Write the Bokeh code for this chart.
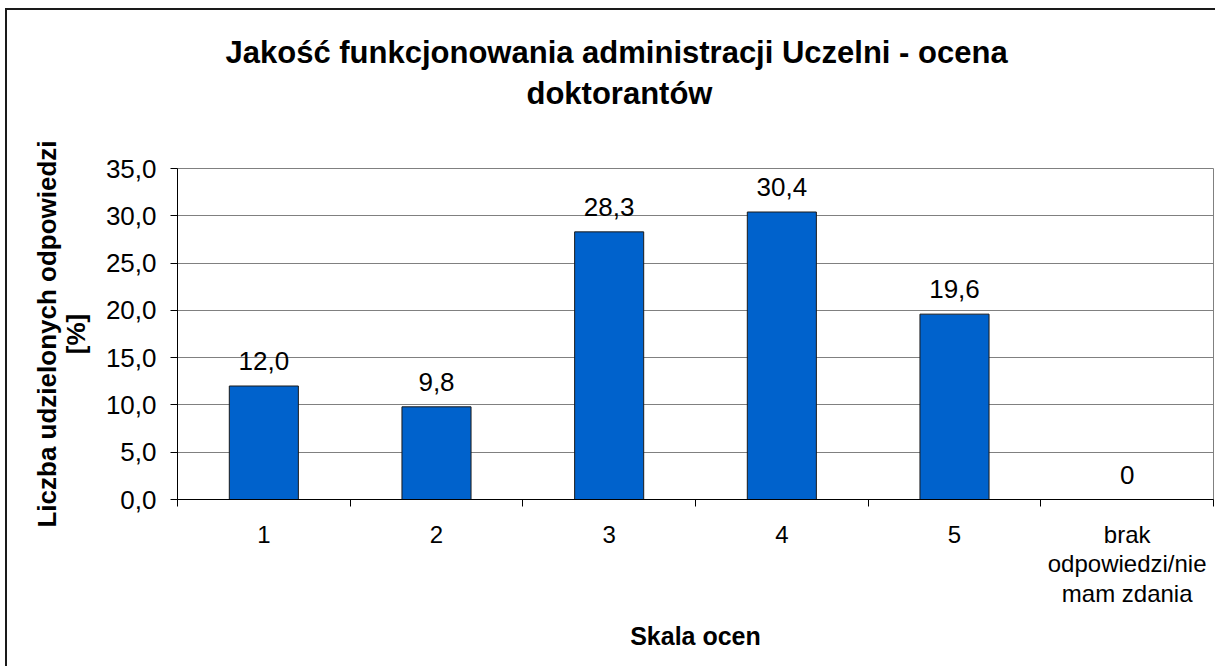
from bokeh.plotting import figure
from bokeh.models import Range1d, FixedTicker, ColumnDataSource, LabelSet, Title
from bokeh.core.properties import value
from bokeh.embed import file_html
from bokeh.resources import INLINE

# ---- data ----
categories = ["1", "2", "3", "4", "5", "brak\nodpowiedzi/nie\nmam zdania"]
values = [12.0, 9.8, 28.3, 30.4, 19.6, 0]
value_labels = ["12,0", "9,8", "28,3", "30,4", "19,6", "0"]
y_ticks = [0, 5, 10, 15, 20, 25, 30, 35]
y_tick_labels = ["0,0", "5,0", "10,0", "15,0", "20,0", "25,0", "30,0", "35,0"]
title_line1 = "Jakość funkcjonowania administracji Uczelni - ocena"
title_line2 = "doktorantów"
x_title = "Skala ocen"
y_title = "Liczba udzielonych odpowiedzi\n[%]"

FONT = "Liberation Sans"

centers = [i + 0.5 for i in range(len(categories))]
source = ColumnDataSource(dict(x=centers, top=values, lab=value_labels))

p = figure(width=1210, height=658, output_backend="svg", toolbar_location=None,
           x_range=Range1d(0, len(categories)), y_range=Range1d(0, 35),
           min_border_left=170, min_border_right=4, min_border_top=158, min_border_bottom=169)
p.styles = {"border-left": "2px solid #1a1a1a", "border-top": "2px solid #1a1a1a",
            "margin-left": "5px", "margin-top": "8px"}

p.background_fill_color = "white"
p.border_fill_color = "white"
p.outline_line_color = "#808080"
p.outline_line_width = 1

p.vbar(x="x", top="top", width=0.4, source=source,
       fill_color="#0062CC", line_color="#1a1a1a", line_width=1)

labels = LabelSet(x="x", y="top", text="lab", source=source, text_align="center",
                  text_baseline="alphabetic", y_offset=16, text_font=value(FONT),
                  text_font_size="26px", text_color="black")
p.add_layout(labels)

# y axis
yax = p.yaxis[0]
yax.ticker = FixedTicker(ticks=y_ticks, minor_ticks=[])
yax.major_label_overrides = {t: l for t, l in zip(y_ticks, y_tick_labels)}
yax.major_label_text_font = FONT
yax.major_label_text_font_size = "26px"
yax.major_label_text_color = "black"
yax.major_tick_out = 7
yax.major_tick_in = 0
yax.major_tick_line_color = "black"
yax.minor_tick_line_color = None
yax.axis_line_color = "black"
yax.major_label_standoff = 14
yax.axis_label = y_title
yax.axis_label_text_font = FONT
yax.axis_label_text_font_size = "26px"
yax.axis_label_text_font_style = "bold"
yax.axis_label_text_color = "black"
yax.axis_label_text_line_height = 0.95
yax.axis_label_standoff = 12

# x axis
xax = p.xaxis[0]
xax.ticker = FixedTicker(ticks=centers, minor_ticks=list(range(len(categories) + 1)))
xax.major_label_overrides = {c: l for c, l in zip(centers, categories)}
xax.major_label_text_font = FONT
xax.major_label_text_font_size = "24px"
xax.major_label_text_color = "black"
xax.major_label_text_line_height = 1.1
xax.major_tick_line_color = None
xax.minor_tick_out = 7
xax.minor_tick_in = 0
xax.minor_tick_line_color = "black"
xax.axis_line_color = "black"
xax.major_label_standoff = 14
xax.axis_label = x_title
xax.axis_label_text_font = FONT
xax.axis_label_text_font_size = "25px"
xax.axis_label_text_font_style = "bold"
xax.axis_label_text_color = "black"
xax.axis_label_standoff = 12

p.xgrid.grid_line_color = None
p.ygrid.ticker = FixedTicker(ticks=y_ticks)
p.ygrid.grid_line_color = "#808080"
p.ygrid.grid_line_width = 1

# titles: two lines, each placed individually
p.title.visible = False
t2 = Title(text=title_line2, align="left", offset=349, text_font=FONT,
           text_font_size="31px", text_font_style="bold", text_color="black", standoff=0)
t1 = Title(text=title_line1, align="left", offset=48, text_font=FONT,
           text_font_size="31px", text_font_style="bold", text_color="black", standoff=0)
try:
    t2.padding = dict(left=0, right=0, top=0, bottom=58)
    t1.padding = dict(left=0, right=0, top=21, bottom=4)
except Exception:
    pass
p.add_layout(t2, "above")
p.add_layout(t1, "above")

open("out.html", "w").write(file_html(p, INLINE))
